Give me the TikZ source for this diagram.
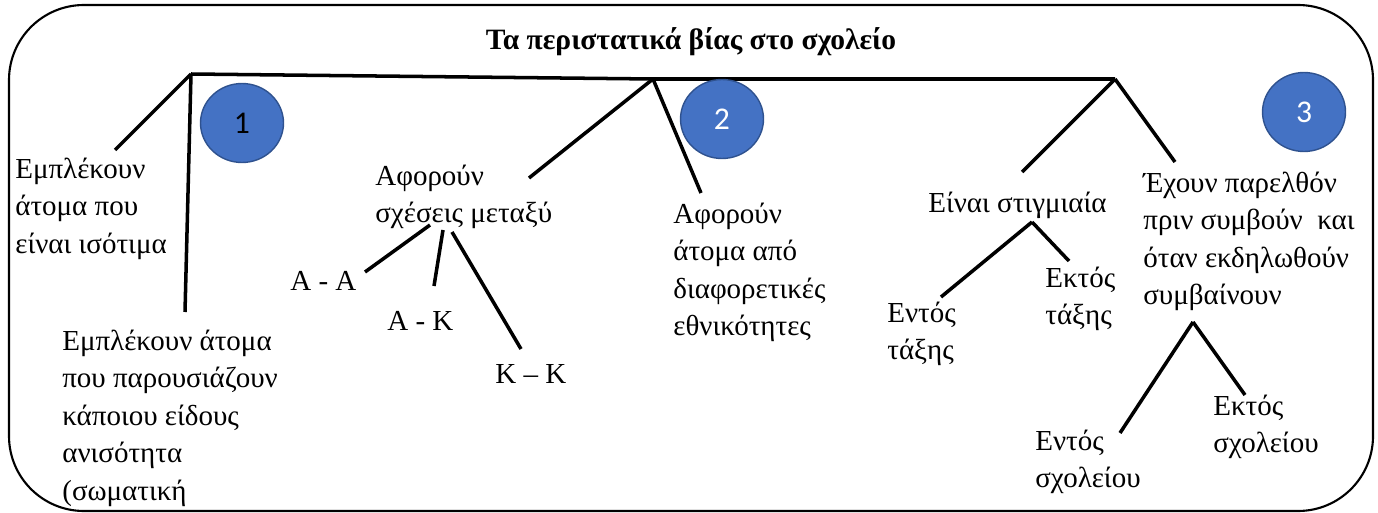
\documentclass[tikz,border=0pt]{standalone}
\usepackage{fontspec}
\setmainfont{Liberation Serif}
\newfontfamily\calfont{Carlito}
\usetikzlibrary{shapes.geometric}
\definecolor{badgeblue}{HTML}{4472C4}
\definecolor{badgeedge}{HTML}{2F528F}
\tikzset{
  leaf/.style={
    anchor = north west,
    inner sep = 0pt,
    align = left,
    font = \fontsize{16.5}{21.3}\selectfont
  },
  wideleaf/.style={
    leaf,
    font = \fontsize{16.5}{21.3}\selectfont
  },
  branch/.style={
    line width = 2pt
  },
  badge/.style={
    shape = ellipse,
    draw = badgeedge,
    fill = badgeblue,
    line width = 0.8pt,
    minimum width = 1.66cm,
    minimum height = 1.58cm,
    inner sep = 0pt,
    font = \calfont\fontsize{18}{20}\selectfont
  },
}

\begin{document}
\begin{tikzpicture}[x=0.02cm, y=-0.02cm]
        \useasboundingbox (0,0) rectangle (1378,513);
        \draw[line width=1.2pt, rounded corners=1.5cm] (9,5) rectangle (1373,511);

        \node[anchor=base, inner sep=0pt, font=\bfseries\fontsize{16.8}{20}\selectfont] (title) at (691,50) {Τα περιστατικά βίας στο σχολείο};

        % apex points and line ends
        \coordinate (apexL) at (191,74);
        \coordinate (apexM) at (653,79);
        \coordinate (apexR) at (1115,79);
        \coordinate (endIso) at (115,150);
        \coordinate (endAnis) at (185,312);
        \coordinate (endSxes) at (529,178);
        \coordinate (endEthn) at (701,193);
        \coordinate (endStig) at (1022,172);
        \coordinate (endPar) at (1175,162);
        \coordinate (sxA) at (430,225);
        \coordinate (sxB) at (443,230);
        \coordinate (sxC) at (452,232);
        \coordinate (endAA) at (365,272);
        \coordinate (endAK) at (434,286);
        \coordinate (endKK) at (521,349);
        \coordinate (apexStig) at (1032,222);
        \coordinate (endEntT) at (941,297);
        \coordinate (endEktT) at (1069,261);
        \coordinate (apexSymb) at (1193,322);
        \coordinate (endEntS) at (1120,433);
        \coordinate (endEktS) at (1245,395);

        \draw[branch] (apexL) -- (apexM) -- (apexR);
        \draw[branch] (apexL) -- (endIso);
        \draw[branch] (apexL) -- (endAnis);
        \draw[branch] (apexM) -- (endSxes);
        \draw[branch] (apexM) -- (endEthn);
        \draw[branch] (apexR) -- (endStig);
        \draw[branch] (apexR) -- (endPar);
        \draw[branch] (sxA) -- (endAA);
        \draw[branch] (sxB) -- (endAK);
        \draw[branch] (sxC) -- (endKK);
        \draw[branch] (apexStig) -- (endEntT);
        \draw[branch] (apexStig) -- (endEktT);
        \draw[branch] (apexSymb) -- (endEntS);
        \draw[branch] (apexSymb) -- (endEktS);

        \node[leaf] (iso) at (15,152) {\strut Εμπλέκουν\\άτομα που\\είναι ισότιμα};
        \node[leaf] (anis) at (62,324) {\strut Εμπλέκουν άτομα\\που παρουσιάζουν\\κάποιου είδους\\ανισότητα\\(σωματική};
        \node[leaf] (sxes) at (375,159) {\strut Αφορούν\\σχέσεις μεταξύ};
        \node[leaf] (aa) at (290,264) {\strut Α - Α};
        \node[leaf] (ak) at (387,304) {\strut Α - Κ};
        \node[leaf] (kk) at (495,357) {\strut Κ – Κ};
        \node[leaf] (ethn) at (673,197) {\strut Αφορούν\\άτομα από\\διαφορετικές\\εθνικότητες};
        \node[wideleaf] (stig) at (928,186) {\strut Είναι στιγμιαία};
        \node[wideleaf] (entT) at (887,296) {\strut Εντός\\τάξης};
        \node[wideleaf] (ektT) at (1045,261) {\strut Εκτός\\τάξης};
        \node[leaf] (par) at (1143,166) {\strut Έχουν παρελθόν\\πριν συμβούν\ \ και\\όταν εκδηλωθούν\\συμβαίνουν};
        \node[wideleaf] (entS) at (1035,424) {\strut Εντός\\σχολείου};
        \node[wideleaf] (ektS) at (1213,389) {\strut Εκτός\\σχολείου};

        \node[badge] (one) at (242,123) {1};
        \node[badge, text=white] (two) at (722,119) {2};
        \node[badge, text=white] (three) at (1304,112) {3};
\end{tikzpicture}
\end{document}
